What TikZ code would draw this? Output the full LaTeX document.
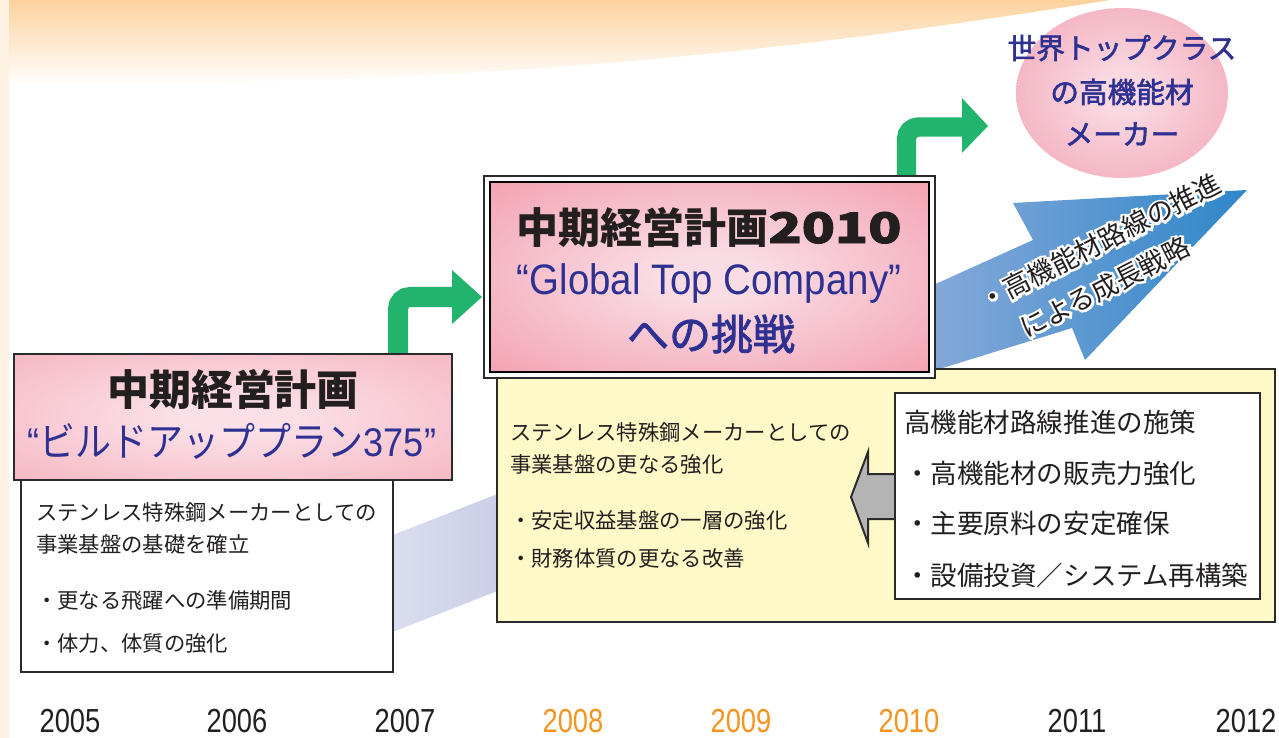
\documentclass[tikz,border=0pt]{standalone}
\usepackage{fontspec}
\usepackage{graphicx}
\usetikzlibrary{shapes.geometric}
\setmainfont{Noto Sans CJK JP}
\newfontfamily\jp{Noto Sans CJK JP}
\newfontfamily\jpm[FakeBold=2]{Noto Sans CJK JP}
\newfontfamily\jphalo[FakeBold=18]{Noto Sans CJK JP}
\newfontfamily\jpc[FakeStretch=0.9]{Noto Sans CJK JP}
\newfontfamily\lat[FakeStretch=0.9]{Liberation Sans}
\newfontfamily\yr[FakeStretch=0.82]{Liberation Sans}
\newcommand{\halotext}[1]{\rlap{\color{white}\jphalo #1}#1}
\definecolor{cream}{HTML}{FEF3E3}
\definecolor{orgT}{HTML}{FCD29D}
\definecolor{grn}{HTML}{22B46C}
\definecolor{navy}{HTML}{2E3192}
\definecolor{txt}{HTML}{231F20}
\definecolor{yel}{HTML}{FFF9C7}
\definecolor{edgec}{HTML}{2B2B2B}
\definecolor{grayA}{HTML}{B4B4B4}
\definecolor{lavL}{HTML}{DCDFF0}
\definecolor{lavR}{HTML}{CACFE7}
\definecolor{blueL}{HTML}{88AAD9}
\definecolor{blueR}{HTML}{2F86C9}
\definecolor{yrorg}{HTML}{F7941D}
\definecolor{pkA0}{HTML}{FBE0E8}
\definecolor{pkA1}{HTML}{F4A5B1}
\definecolor{pkB0}{HTML}{F9DCE4}
\definecolor{pkB1}{HTML}{F1869B}
\definecolor{pkE0}{HTML}{F9D8E1}
\definecolor{pkE1}{HTML}{EF8CA0}
\pgfdeclareradialshading{pinkA}{\pgfpoint{0bp}{0bp}}{color(0bp)=(pkA0); color(6bp)=(pkA0); color(50bp)=(pkA1); color(72bp)=(pkA1)}
\pgfdeclareradialshading{pinkB}{\pgfpoint{0bp}{0bp}}{color(0bp)=(pkB0); color(6bp)=(pkB0); color(50bp)=(pkB1); color(72bp)=(pkB1)}
\pgfdeclareradialshading{pinkE}{\pgfpoint{0bp}{0bp}}{color(0bp)=(pkE0); color(6bp)=(pkE0); color(50bp)=(pkE1); color(72bp)=(pkE1)}
\begin{document}
\begin{tikzpicture}[x=0.75pt,y=-0.75pt,
  box/.style={draw=edgec, line width=1.8pt, inner sep=0pt, outer sep=0pt},
  body/.style={font=\jp\fontsize{16pt}{19pt}\selectfont, text=txt, anchor=west, inner sep=0pt},
  item/.style={font=\jp\fontsize{19.9pt}{24pt}\selectfont, text=txt, anchor=west, inner sep=0pt},
  goaltxt/.style={font=\jpm\fontsize{21.5pt}{26pt}\selectfont, text=navy, inner sep=0pt},
  arrtxt/.style={font=\jp\fontsize{20pt}{24pt}\selectfont, text=txt, inner sep=0pt, rotate=27},
  year/.style={font=\yr\fontsize{25pt}{30pt}\selectfont, inner sep=0pt, text=txt},
  greenarrow/.style={draw=grn, line width=15pt, rounded corners=9pt}]
\useasboundingbox (0,0) rectangle (1279,738);
\fill[white] (0,0) rectangle (1279,738);
% background decorations
\fill[cream] (0,0) rectangle (9,738);
\shade[top color=orgT, bottom color=white] (9,0) -- (1110,0) .. controls (800,50) and (500,85) .. (9,85) -- cycle;
\shade[left color=lavL, right color=lavR] (380,540) -- (500,493) -- (500,590) -- (380,637) -- cycle;
\shade[left color=blueL, right color=blueR] (920,291) -- (1033,240) -- (1013,203) -- (1247,190) -- (1085,360) -- (1072,328) -- (920,375) -- cycle;
% green arrows
\coordinate (g1a) at (398,356);
\coordinate (g1b) at (398,297);
\coordinate (g1c) at (456,297);
\draw[greenarrow] (g1a) -- (g1b) -- (g1c);
\fill[grn] (452,270) -- (482,297) -- (452,324) -- cycle;
\coordinate (g2a) at (906.5,178);
\coordinate (g2b) at (906.5,127);
\coordinate (g2c) at (966,127);
\draw[greenarrow, line width=14.5pt] (g2a) -- (g2b) -- (g2c);
\fill[grn] (962,98) -- (988,126) -- (962,153) -- cycle;
% box 1
\node[box, fill=white, line width=1.5pt, minimum width=279pt, minimum height=145.5pt] (b1b) at (207,575) {};
\node[box, shade, shading=pinkA, minimum width=328.5pt, minimum height=94.5pt] (b1h) at (233,417) {};
\node[font=\jp\bfseries\fontsize{31.5pt}{36pt}\selectfont, text=txt, inner sep=0pt] (t1a) at (233,389) {中期経営計画};
\node[text=navy, inner sep=0pt] (t1b) at (232,441) {{\lat\fontsize{30pt}{36pt}\selectfont “}{\jpc\fontsize{30pt}{36pt}\selectfont ビルドアッププラン}{\lat\fontsize{30pt}{36pt}\selectfont 375”}};
\node[body] (l1a) at (36,512) {ステンレス特殊鋼メーカーとしての};
\node[body] (l1b) at (36,544) {事業基盤の基礎を確立};
\node[body] (l1c) at (36,600) {・更なる飛躍への準備期間};
\node[body] (l1d) at (36,643) {・体力、体質の強化};
% box 2
\node[box, fill=yel, minimum width=583.5pt, minimum height=189.75pt] (b2b) at (886,495.5) {};
\node[draw=edgec, line width=1pt, fill=white, inner sep=0pt, minimum width=338.25pt, minimum height=151.5pt] (b2o) at (709.5,277) {};
\node[draw=black, line width=2.2pt, shade, shading=pinkB, inner sep=0pt, minimum width=329.25pt, minimum height=142.5pt] (b2h) at (709.5,277) {};
\node[font=\jp\bfseries\fontsize{31.5pt}{36pt}\selectfont, text=txt, inner sep=0pt] (t2a) at (709,227) {中期経営計画{\jpm\scalebox{1.3}[1]{2010}}};
\node[font=\lat\fontsize{32pt}{38pt}\selectfont, text=navy, inner sep=0pt, anchor=base] (t2b) at (709,295) {“Global Top Company”};
\node[font=\jpm\fontsize{31.5pt}{36pt}\selectfont, text=navy, inner sep=0pt] (t2c) at (711,334) {への挑戦};
\node[body] (l2a) at (510,432) {ステンレス特殊鋼メーカーとしての};
\node[body] (l2b) at (510,464) {事業基盤の更なる強化};
\node[body] (l2c) at (510,520) {・安定収益基盤の一層の強化};
\node[body] (l2d) at (510,558) {・財務体質の更なる改善};
% gray arrow and inner box
\filldraw[fill=grayA, draw=edgec, line width=1.5pt] (895,474) -- (868,474) -- (868,452) -- (851,497) -- (868,543) -- (868,519) -- (895,519);
\node[box, fill=white, minimum width=273.75pt, minimum height=154.5pt] (wb) at (1077.5,496) {};
\node[item] (i0) at (904,422) {高機能材路線推進の施策};
\node[item] (i1) at (904,473) {・高機能材の販売力強化};
\node[item] (i2) at (904,523) {・主要原料の安定確保};
\node[item] (i3) at (904,575) {・設備投資／システム再構築};
% goal ellipse
\node[ellipse, shade, shading=pinkE, inner sep=0pt, minimum width=159pt, minimum height=127.5pt] (goal) at (1122,93) {};
\node[goaltxt] (gt1) at (1122,48) {世界トップクラス};
\node[goaltxt] (gt2) at (1122,92) {の高機能材};
\node[goaltxt] (gt3) at (1122,134) {メーカー};
% text on blue arrow
\node[arrtxt] (a1) at (1100,242) {\halotext{・高機能材路線の推進}};
\node[arrtxt] (a2) at (1105,287) {\halotext{による成長戦略}};
% years
\node[year] (y05) at (70,721) {2005};
\node[year] (y06) at (237,721) {2006};
\node[year] (y07) at (405,721) {2007};
\node[year, text=yrorg] (y08) at (573,721) {2008};
\node[year, text=yrorg] (y09) at (741,721) {2009};
\node[year, text=yrorg] (y10) at (909,721) {2010};
\node[year] (y11) at (1077,721) {2011};
\node[year] (y12) at (1246,721) {2012};
\end{tikzpicture}
\end{document}
